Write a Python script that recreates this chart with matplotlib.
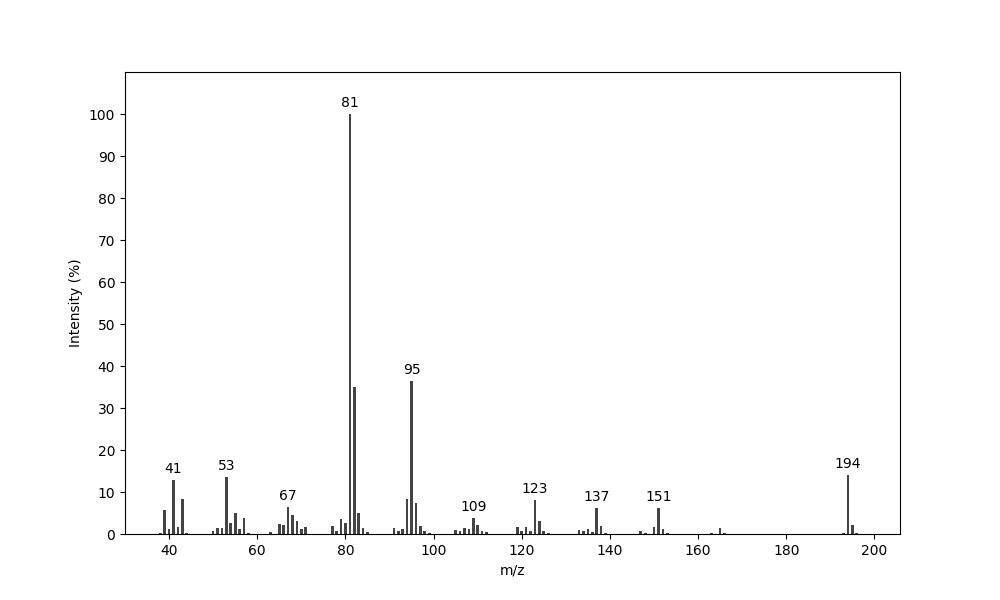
import matplotlib
matplotlib.use("Agg")
import matplotlib.pyplot as plt

mz = [38, 39, 40, 41, 42, 43, 44,
      50, 51, 52, 53, 54, 55, 56, 57, 58,
      63, 65, 66, 67, 68, 69, 70, 71,
      77, 78, 79, 80, 81, 82, 83, 84, 85,
      91, 92, 93, 94, 95, 96, 97, 98, 99,
      105, 106, 107, 108, 109, 110, 111, 112,
      119, 120, 121, 122, 123, 124, 125, 126,
      133, 134, 135, 136, 137, 138, 139,
      147, 148, 150, 151, 152, 153,
      163, 165, 166,
      193, 194, 195, 196]
intensity = [0.2, 5.7, 1.2, 12.9, 1.7, 8.3, 0.3,
             0.7, 1.4, 1.4, 13.6, 2.6, 5.0, 1.2, 3.8, 0.2,
             0.5, 2.4, 2.1, 6.4, 4.5, 3.1, 1.2, 1.7,
             1.9, 0.7, 3.6, 2.6, 100.0, 35.0, 5.0, 1.4, 0.5,
             1.4, 0.7, 1.2, 8.3, 36.5, 7.4, 1.9, 0.7, 0.2,
             1.0, 0.7, 1.4, 1.2, 3.8, 2.1, 0.7, 0.5,
             1.7, 0.7, 1.7, 0.7, 8.1, 3.1, 0.7, 0.2,
             1.0, 0.7, 1.2, 0.5, 6.2, 1.9, 0.2,
             0.7, 0.2, 1.7, 6.2, 1.2, 0.2,
             0.2, 1.4, 0.2,
             0.2, 14.0, 2.1, 0.2]
labeled_peaks = [41, 53, 67, 81, 95, 109, 123, 137, 151, 194]

fig, ax = plt.subplots(figsize=(10, 6), dpi=100)
ax.bar(mz, intensity, width=0.6, color='#444444')
for p in labeled_peaks:
    v = intensity[mz.index(p)]
    ax.text(p, v + 1, str(p), ha='center', va='bottom', fontsize=10)
ax.set_xlim(30, 205.8)
ax.set_ylim(0, 110)
ax.set_yticks(range(0, 101, 10))
ax.set_xlabel('m/z')
ax.set_ylabel('Intensity (%)')
fig.savefig('out.png', dpi=100)
